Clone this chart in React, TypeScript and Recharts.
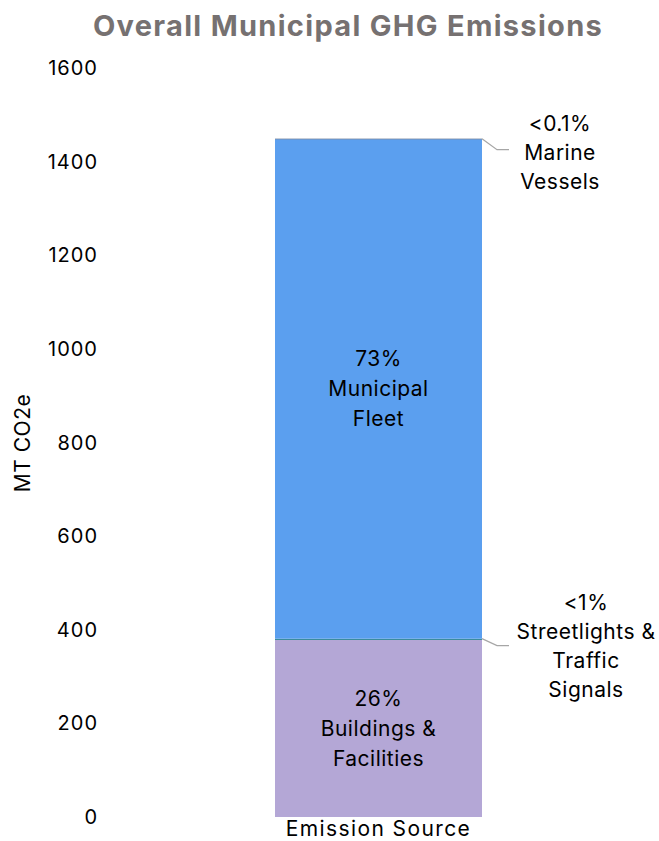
import { BarChart, Bar, XAxis, YAxis, LabelList } from "recharts";

const categories = ["Emission Source"];
const buildings = [378];
const streetlights = [3];
const fleet = [1067];
const marine = [1];
const yTicks = [0, 200, 400, 600, 800, 1000, 1200, 1400, 1600];

const buildingsLabel = ["26%", "Buildings &", "Facilities"];
const streetlightsLabel = ["<1%", "Streetlights &", "Traffic", "Signals"];
const fleetLabel = ["73%", "Municipal", "Fleet"];
const marineLabel = ["<0.1%", "Marine", "Vessels"];

const data = categories.map((source, i) => ({
  source,
  buildings: buildings[i],
  streetlights: streetlights[i],
  fleet: fleet[i],
  marine: marine[i],
}));

const FONT = "Inter, 'Noto Sans', sans-serif";

// text centered inside a segment
const insideLabel = (lines: string[]) => (props: any) => {
  const x = Number(props.x);
  const y = Number(props.y);
  const w = Number(props.width);
  const h = Number(props.height);
  const cx = x + w / 2;
  const cy = y + h / 2;
  const step = 30;
  const start = cy - ((lines.length - 1) * step) / 2;
  return (
    <g>
      {lines.map((l, i) => (
        <text
          key={i}
          x={cx}
          y={start + i * step}
          textAnchor="middle"
          dominantBaseline="central"
          fontSize={21}
          letterSpacing={0.5}
          fontFamily={FONT}
          fill="#000"
        >
          {l}
        </text>
      ))}
    </g>
  );
};

// text outside the bar with a leader line from the segment edge
const calloutLabel = (lines: string[], textX: number, firstOffset: number, drop: number) => (props: any) => {
  const x = Number(props.x) + Number(props.width);
  const y = Number(props.y);
  return (
    <g>
      <polyline
        points={`${x},${y} ${x + 15},${y + drop} ${x + 27},${y + drop}`}
        fill="none"
        stroke="#a6a6a6"
        strokeWidth={1.2}
      />
      {lines.map((l, i) => (
        <text
          key={i}
          x={x + textX}
          y={y + firstOffset + i * 29}
          textAnchor="middle"
          dominantBaseline="central"
          fontSize={21}
          letterSpacing={0.5}
          fontFamily={FONT}
          fill="#000"
        >
          {l}
        </text>
      ))}
    </g>
  );
};

const CategoryTick = (props: any) => (
  <text
    x={props.x}
    y={Number(props.y) + 3}
    textAnchor="middle"
    dominantBaseline="central"
    fontSize={21}
    letterSpacing={1.4}
    fontFamily={FONT}
    fill="#000"
  >
    {props.payload.value}
  </text>
);

export default function App() {
  return (
    <div style={{ position: "absolute", left: 0, top: 0, width: 659, height: 841, background: "#fff" }}>
      <BarChart
        width={659}
        height={841}
        data={data}
        margin={{ top: 68, right: 8, bottom: 0, left: 0 }}
      >
        <text
          x={348}
          y={25}
          textAnchor="middle"
          dominantBaseline="central"
          fontSize={29}
          letterSpacing={1.3}
          fontWeight={700}
          fontFamily={FONT}
          fill="#767171"
        >
          Overall Municipal GHG Emissions
        </text>
        <text
          x={22}
          y={443}
          transform="rotate(-90, 22, 443)"
          textAnchor="middle"
          dominantBaseline="central"
          fontSize={21}
          letterSpacing={0.5}
          fontFamily={FONT}
          fill="#000"
        >
          MT CO2e
        </text>
        <XAxis
          dataKey="source"
          axisLine={false}
          tickLine={false}
          height={24}
          tick={<CategoryTick />}
        />
        <YAxis
          width={106}
          domain={[0, 1600]}
          ticks={yTicks}
          axisLine={false}
          tickLine={false}
          tick={{ fontSize: 20, letterSpacing: 1, fill: "#000", fontFamily: FONT }}
        />
        <Bar dataKey="buildings" stackId="a" fill="#b4a7d6" barSize={207} isAnimationActive={false}>
          <LabelList dataKey="buildings" content={insideLabel(buildingsLabel)} />
        </Bar>
        <Bar dataKey="streetlights" stackId="a" fill="#3b8c9c" barSize={207} isAnimationActive={false}>
          <LabelList dataKey="streetlights" content={calloutLabel(streetlightsLabel, 104, -36, 7)} />
        </Bar>
        <Bar dataKey="fleet" stackId="a" fill="#5b9fef" barSize={207} isAnimationActive={false}>
          <LabelList dataKey="fleet" content={insideLabel(fleetLabel)} />
        </Bar>
        <Bar dataKey="marine" stackId="a" fill="#1f3864" barSize={207} isAnimationActive={false}>
          <LabelList dataKey="marine" content={calloutLabel(marineLabel, 78, -15, 11)} />
        </Bar>
      </BarChart>
    </div>
  );
}
